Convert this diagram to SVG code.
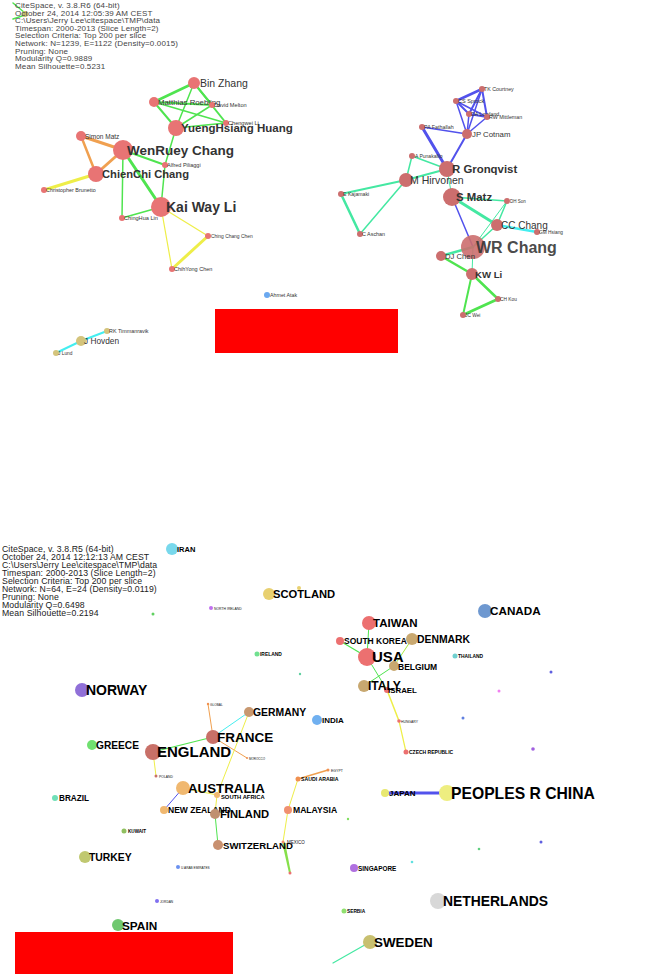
<svg xmlns="http://www.w3.org/2000/svg" width="648" height="974" viewBox="0 0 648 974">
<style>
text{font-family:"Liberation Sans",Arial,sans-serif}
.hd{font-size:8px;fill:#444;letter-spacing:0.15px}
.hd2{font-size:8.7px;fill:#222;letter-spacing:0.1px}
.e{fill:none;stroke-linecap:round}
.g{stroke:#4fe44f}.o{stroke:#f0a050}.y{stroke:#eeee48}.b{stroke:#5252ec}.t{stroke:#44e8a2}.c{stroke:#44eef0}.yg{stroke:#a8ea40}
.p1{fill:#e87474}.p2{fill:#cc6e6e}.kh{fill:#d4c47c}
.l{fill:#333}.lb{fill:#333;font-weight:bold}.lg{fill:#444}
.k{fill:#000;font-weight:bold}.kr{fill:#111}
</style>
<rect width="648" height="974" fill="#fff"/>

<!-- header top -->
<g id="header-top">
<line class="e g" x1="13" y1="3" x2="25" y2="13" stroke-width="1.5"/>
<line class="e g" x1="13" y1="19" x2="25" y2="15" stroke-width="1.5"/>
<circle cx="25" cy="14" r="3" fill="#c8c070"/>
<text class="hd" x="15" y="8">CiteSpace, v. 3.8.R6 (64-bit)</text>
<text class="hd" x="15" y="15.5">October 24, 2014 12:05:39 AM CEST</text>
<text class="hd" x="15" y="23">C:\Users\Jerry Lee\citespace\TMP\data</text>
<text class="hd" x="15" y="30.5">Timespan: 2000-2013 (Slice Length=2)</text>
<text class="hd" x="15" y="38">Selection Criteria: Top 200 per slice</text>
<text class="hd" x="15" y="46">Network: N=1239, E=1122 (Density=0.0015)</text>
<text class="hd" x="15" y="53.5">Pruning: None</text>
<text class="hd" x="15" y="61">Modularity Q=0.9889</text>
<text class="hd" x="15" y="68.5">Mean Silhouette=0.5231</text>
</g>

<g id="connectors">
<!-- top-left cluster -->
<line class="e g" x1="194" y1="83" x2="154" y2="102" stroke-width="2.5"/>
<line class="e g" x1="194" y1="83" x2="212" y2="105" stroke-width="2"/>
<line class="e g" x1="194" y1="83" x2="176" y2="128" stroke-width="1.5"/>
<line class="e g" x1="194" y1="83" x2="226" y2="123" stroke-width="2"/>
<line class="e g" x1="154" y1="102" x2="212" y2="105" stroke-width="2"/>
<line class="e g" x1="154" y1="102" x2="176" y2="128" stroke-width="2"/>
<line class="e g" x1="154" y1="102" x2="226" y2="123" stroke-width="1.5"/>
<line class="e g" x1="212" y1="105" x2="176" y2="128" stroke-width="1.5"/>
<line class="e g" x1="176" y1="128" x2="226" y2="123" stroke-width="1.5"/>
<line class="e g" x1="176" y1="128" x2="165" y2="165" stroke-width="1.5"/>
<line class="e g" x1="165" y1="165" x2="161" y2="207" stroke-width="1.5"/>
<line class="e g" x1="123" y1="150" x2="165" y2="165" stroke-width="2"/>
<line class="e g" x1="123" y1="150" x2="161" y2="207" stroke-width="3"/>
<line class="e g" x1="123" y1="150" x2="122" y2="218" stroke-width="1.5"/>
<line class="e g" x1="122" y1="218" x2="161" y2="207" stroke-width="1.5"/>
<line class="e o" x1="81" y1="136" x2="123" y2="150" stroke-width="3"/>
<line class="e o" x1="81" y1="136" x2="96" y2="174" stroke-width="2.5"/>
<line class="e o" x1="123" y1="150" x2="96" y2="174" stroke-width="3"/>
<line class="e y" x1="96" y1="174" x2="44" y2="190" stroke-width="3"/>
<line class="e y" x1="161" y1="207" x2="208" y2="236" stroke-width="1.2"/>
<line class="e y" x1="161" y1="207" x2="172" y2="269" stroke-width="1.2"/>
<line class="e y" x1="208" y1="236" x2="172" y2="269" stroke-width="3"/>
<!-- right cluster -->
<line class="e b" x1="482" y1="89" x2="456" y2="101" stroke-width="2.5"/>
<line class="e b" x1="482" y1="89" x2="469" y2="114" stroke-width="2"/>
<line class="e b" x1="482" y1="89" x2="487" y2="117" stroke-width="2"/>
<line class="e b" x1="482" y1="89" x2="467" y2="134" stroke-width="1.5"/>
<line class="e b" x1="456" y1="101" x2="469" y2="114" stroke-width="2"/>
<line class="e b" x1="456" y1="101" x2="487" y2="117" stroke-width="1.5"/>
<line class="e b" x1="456" y1="101" x2="467" y2="134" stroke-width="1.5"/>
<line class="e b" x1="469" y1="114" x2="487" y2="117" stroke-width="2"/>
<line class="e b" x1="469" y1="114" x2="467" y2="134" stroke-width="1.5"/>
<line class="e b" x1="487" y1="117" x2="467" y2="134" stroke-width="1.5"/>
<line class="e b" x1="422" y1="127" x2="467" y2="134" stroke-width="1.5"/>
<line class="e b" x1="422" y1="127" x2="447" y2="169" stroke-width="3"/>
<line class="e b" x1="467" y1="134" x2="447" y2="169" stroke-width="2"/>
<line class="e b" x1="452" y1="197" x2="473" y2="247" stroke-width="1.5"/>
<line class="e t" x1="412" y1="156" x2="447" y2="169" stroke-width="1.5"/>
<line class="e t" x1="412" y1="156" x2="406" y2="180" stroke-width="1.5"/>
<line class="e t" x1="406" y1="180" x2="447" y2="169" stroke-width="2"/>
<line class="e t" x1="447" y1="169" x2="452" y2="197" stroke-width="1"/>
<line class="e t" x1="406" y1="180" x2="341" y2="194" stroke-width="2"/>
<line class="e t" x1="406" y1="180" x2="360" y2="234" stroke-width="1.5"/>
<line class="e t" x1="341" y1="194" x2="360" y2="234" stroke-width="2.5"/>
<line class="e t" x1="452" y1="197" x2="507" y2="201" stroke-width="1.5"/>
<line class="e t" x1="452" y1="197" x2="497" y2="225" stroke-width="3"/>
<line class="e t" x1="507" y1="201" x2="497" y2="225" stroke-width="1.5"/>
<line class="e t" x1="507" y1="201" x2="473" y2="247" stroke-width="1"/>
<line class="e t" x1="497" y1="225" x2="473" y2="247" stroke-width="1.5"/>
<line class="e c" x1="497" y1="225" x2="537" y2="232" stroke-width="2.5"/>
<line class="e t" x1="473" y1="247" x2="441" y2="256" stroke-width="2.5"/>
<line class="e t" x1="473" y1="247" x2="472" y2="274" stroke-width="1"/>
<line class="e g" x1="441" y1="256" x2="472" y2="274" stroke-width="2.5"/>
<line class="e g" x1="472" y1="274" x2="498" y2="299" stroke-width="2.5"/>
<line class="e g" x1="472" y1="274" x2="463" y2="315" stroke-width="2"/>
<line class="e g" x1="498" y1="299" x2="463" y2="315" stroke-width="3"/>
<line class="e c" x1="56" y1="353" x2="81" y2="341" stroke-width="2"/>
<line class="e c" x1="81" y1="341" x2="107" y2="331" stroke-width="2"/>
<!-- bottom network -->
<line class="e g" x1="369" y1="623" x2="367" y2="657" stroke-width="1"/>
<line class="e g" x1="340" y1="641" x2="367" y2="657" stroke-width="1.2"/>
<line class="e g" x1="367" y1="657" x2="387" y2="690" stroke-width="1"/>
<line class="e yg" x1="412" y1="639" x2="394" y2="666" stroke-width="1"/>
<line class="e g" x1="394" y1="666" x2="364" y2="686" stroke-width="1"/>
<line class="e y" x1="387" y1="690" x2="399" y2="721" stroke-width="1.5"/>
<line class="e y" x1="399" y1="721" x2="406" y2="752" stroke-width="1.2"/>
<line class="e c" x1="213" y1="737" x2="249" y2="712" stroke-width="1"/>
<line class="e g" x1="213" y1="737" x2="153" y2="752" stroke-width="1.2"/>
<line class="e o" x1="213" y1="737" x2="208" y2="704" stroke-width="1"/>
<line class="e o" x1="213" y1="737" x2="247" y2="758" stroke-width="1"/>
<line class="e y" x1="153" y1="752" x2="156" y2="776" stroke-width="1"/>
<line class="e y" x1="249" y1="712" x2="217" y2="795" stroke-width="1"/>
<line class="e y" x1="217" y1="795" x2="215" y2="814" stroke-width="1"/>
<line class="e y" x1="183" y1="788" x2="217" y2="795" stroke-width="1"/>
<line class="e b" x1="183" y1="788" x2="164" y2="810" stroke-width="1"/>
<line class="e g" x1="215" y1="814" x2="218" y2="845" stroke-width="1"/>
<line class="e o" x1="298" y1="779" x2="328" y2="770" stroke-width="1.5"/>
<line class="e y" x1="298" y1="779" x2="288" y2="810" stroke-width="1"/>
<line class="e y" x1="288" y1="810" x2="283" y2="842" stroke-width="1"/>
<polygon points="282,842 285,842 291,873 289,873" fill="#86e04a"/>
<line class="e b" x1="385" y1="793" x2="447" y2="793" stroke-width="3"/>
<line class="e t" x1="370" y1="942" x2="333" y2="963" stroke-width="1.2"/>
</g>

<!-- top-left cluster nodes -->
<g id="n-bin-zhang"><circle class="p1" cx="194" cy="83" r="6"/><text class="l" x="200" y="87" font-size="10.5">Bin Zhang</text></g>
<g id="n-matthias-roebling"><circle class="p1" cx="154" cy="102" r="5"/><text class="l" x="158" y="105" font-size="7.8">Matthias Roebling</text></g>
<g id="n-david-melton"><circle class="p1" cx="212" cy="105" r="3"/><text class="l" x="214" y="107" font-size="5.6">David Melton</text></g>
<g id="n-chengwei-li"><circle class="p1" cx="226" cy="123" r="3"/><text class="l" x="228" y="125" font-size="5.6">Chengwei Li</text></g>
<g id="n-yuenghsiang-huang"><circle class="p1" cx="176" cy="128" r="8"/><text class="lb" x="181" y="132" font-size="11.5">YuengHsiang Huang</text></g>
<g id="n-simon-matz"><circle class="p1" cx="81" cy="136" r="5"/><text class="l" x="85" y="138.5" font-size="6.5">Simon Matz</text></g>
<g id="n-wenruey-chang"><circle class="p1" cx="123" cy="150" r="10"/><text class="lb" x="127" y="155" font-size="13.5">WenRuey Chang</text></g>
<g id="n-alfred-piliaggi"><circle class="p1" cx="165" cy="165" r="3"/><text class="l" x="167" y="167" font-size="5.5">Alfred Piliaggi</text></g>
<g id="n-chienchi-chang"><circle class="p1" cx="96" cy="174" r="8"/><text class="lb" x="102" y="178" font-size="11.2">ChienChi Chang</text></g>
<g id="n-christopher-brunetto"><circle class="p1" cx="44" cy="190" r="3"/><text class="l" x="46" y="192" font-size="5.4">Christopher Brunetto</text></g>
<g id="n-kai-way-li"><circle class="p1" cx="161" cy="207" r="10"/><text class="lb" x="166" y="212" font-size="14">Kai Way Li</text></g>
<g id="n-chinghua-lin"><circle class="p1" cx="122" cy="218" r="3"/><text class="l" x="124" y="220" font-size="5.6">ChingHua Lin</text></g>
<g id="n-ching-chang-chen"><circle class="p1" cx="208" cy="236" r="3"/><text class="l" x="211" y="238" font-size="4.9">Ching Chang Chen</text></g>
<g id="n-chihyong-chen"><circle class="p1" cx="172" cy="269" r="3"/><text class="l" x="174" y="271" font-size="5.5">ChihYong Chen</text></g>

<!-- right cluster nodes -->
<g id="n-tk-courtney"><circle class="p2" cx="482" cy="89" r="3"/><text class="l" x="484" y="91" font-size="5.3">TK Courtney</text></g>
<g id="n-cs-sprock"><circle class="p2" cx="456" cy="101" r="3"/><text class="l" x="458" y="103" font-size="5.5">CS Sprock</text></g>
<g id="n-da-lowland"><circle class="p2" cx="469" cy="114" r="3"/><text class="l" x="471" y="116" font-size="5.3">DA Lowland</text></g>
<g id="n-rw-mittleman"><circle class="p2" cx="487" cy="117" r="3"/><text class="l" x="489" y="119" font-size="5.3">RW Mittleman</text></g>
<g id="n-pa-fathallah"><circle class="p2" cx="422" cy="127" r="3"/><text class="l" x="424" y="129" font-size="5.3">PA Fathallah</text></g>
<g id="n-jp-cotnam"><circle class="p2" cx="467" cy="134" r="5"/><text class="l" x="472" y="137" font-size="7.8">JP Cotnam</text></g>
<g id="n-a-punakallio"><circle class="p2" cx="412" cy="156" r="3"/><text class="l" x="415" y="158" font-size="5">A Punakallio</text></g>
<g id="n-r-gronqvist"><circle class="p2" cx="447" cy="169" r="8"/><text class="lb" x="452" y="173" font-size="11.4">R Gronqvist</text></g>
<g id="n-m-hirvonen"><circle class="p2" cx="406" cy="180" r="7"/><text class="l" x="410" y="184" font-size="10.5">M Hirvonen</text></g>
<g id="n-e-kajamaki"><circle class="p2" cx="341" cy="194" r="3"/><text class="l" x="343" y="196" font-size="5.2">E Kajamaki</text></g>
<g id="n-s-matz"><circle class="p2" cx="452" cy="197" r="9"/><text class="lb" x="456" y="201" font-size="11.4">S Matz</text></g>
<g id="n-dh-son"><circle class="p2" cx="507" cy="201" r="3"/><text class="l" x="510" y="203" font-size="4.5">DH Son</text></g>
<g id="n-cc-chang"><circle class="p2" cx="497" cy="225" r="6"/><text class="l" x="501" y="229" font-size="10">CC Chang</text></g>
<g id="n-gm-hsiang"><circle class="p2" cx="537" cy="232" r="3"/><text class="l" x="539" y="234" font-size="4.8">GM Hsiang</text></g>
<g id="n-c-aschan"><circle class="p2" cx="360" cy="234" r="3"/><text class="l" x="362" y="236" font-size="5.4">C Aschan</text></g>
<g id="n-wr-chang"><circle class="p2" cx="473" cy="247" r="12" opacity="0.9"/><text class="lb" x="476" y="253" font-size="16" fill-opacity="0.9">WR Chang</text></g>
<g id="n-dj-chen"><circle class="p2" cx="441" cy="256" r="5"/><text class="l" x="445" y="259" font-size="7.7">DJ Chen</text></g>
<g id="n-kw-li"><circle class="p2" cx="472" cy="274" r="6"/><text class="lb" x="475" y="277.5" font-size="9.6">KW Li</text></g>
<g id="n-ch-kou"><circle class="p2" cx="498" cy="299" r="3"/><text class="l" x="500" y="301" font-size="4.8">CH Kou</text></g>
<g id="n-jc-wei"><circle class="p2" cx="463" cy="315" r="3"/><text class="l" x="465" y="317" font-size="4.8">JC Wei</text></g>

<!-- isolated / small clusters -->
<g id="n-ahmet-atak"><circle cx="267" cy="295" r="3" fill="#6aa8f0"/><text class="l" x="270" y="297" font-size="5.3">Ahmet Atak</text></g>
<g id="n-j-hovden"><circle class="kh" cx="81" cy="341" r="5"/><text class="l" x="84" y="344" font-size="8.3">J Hovden</text></g>
<g id="n-rk-timmanravik"><circle class="kh" cx="107" cy="331" r="3"/><text class="l" x="109" y="333" font-size="5.4">RK Timmanravik</text></g>
<g id="n-j-lund"><circle class="kh" cx="56" cy="353" r="3"/><text class="l" x="58" y="355" font-size="4.8">J Lund</text></g>

<!-- header bottom -->
<g id="header-bottom">
<text class="hd2" x="2" y="552">CiteSpace, v. 3.8.R5 (64-bit)</text>
<text class="hd2" x="2" y="560">October 24, 2014 12:12:13 AM CEST</text>
<text class="hd2" x="2" y="568">C:\Users\Jerry Lee\citespace\TMP\data</text>
<text class="hd2" x="2" y="576">Timespan: 2000-2013 (Slice Length=2)</text>
<text class="hd2" x="2" y="584">Selection Criteria: Top 200 per slice</text>
<text class="hd2" x="2" y="592">Network: N=64, E=24 (Density=0.0119)</text>
<text class="hd2" x="2" y="600">Pruning: None</text>
<text class="hd2" x="2" y="608">Modularity Q=0.6498</text>
<text class="hd2" x="2" y="616">Mean Silhouette=0.2194</text>
</g>

<!-- bottom nodes -->
<g id="n-iran"><circle cx="172" cy="549" r="6" fill="#78d8ec"/><text class="k" x="177" y="552" font-size="7.5">IRAN</text></g>
<g id="n-tiny-1"><circle cx="153" cy="614" r="1.5" fill="#60d060"/></g>
<g id="n-north-ireland"><circle cx="211" cy="608" r="2" fill="#c070f0"/><text class="kr" x="214" y="610" font-size="3.4">NORTH IRELAND</text></g>
<g id="n-scotland"><circle cx="269" cy="594" r="6" fill="#e8d070"/><text class="k" x="273" y="598" font-size="11.2">SCOTLAND</text></g>
<g id="n-tiny-2"><circle cx="299" cy="588" r="2" fill="#e8d070"/></g>
<g id="n-canada"><circle cx="485" cy="611" r="7" fill="#6e98d0"/><text class="k" x="490" y="615" font-size="11.7">CANADA</text></g>
<g id="n-taiwan"><circle cx="369" cy="623" r="7" fill="#ec7070"/><text class="k" x="373" y="627" font-size="11.5">TAIWAN</text></g>
<g id="n-south-korea"><circle cx="340" cy="641" r="4" fill="#ec7070"/><text class="k" x="344" y="644" font-size="8.5">SOUTH KOREA</text></g>
<g id="n-denmark"><circle cx="412" cy="639" r="6" fill="#c8a870"/><text class="k" x="417" y="643" font-size="10.4">DENMARK</text></g>
<g id="n-usa"><circle cx="367" cy="657" r="9" fill="#ec7070"/><text class="k" x="372" y="662" font-size="15">USA</text></g>
<g id="n-ireland"><circle cx="257" cy="654" r="2.5" fill="#70e090"/><text class="k" x="260" y="656" font-size="4.9">IRELAND</text></g>
<g id="n-thailand"><circle cx="455" cy="656" r="2.5" fill="#70d0d0"/><text class="k" x="458" y="658" font-size="4.9">THAILAND</text></g>
<g id="n-belgium"><circle cx="394" cy="666" r="5" fill="#c8a870"/><text class="k" x="398" y="669.5" font-size="8.5">BELGIUM</text></g>
<g id="n-tiny-3"><circle cx="300" cy="674" r="1.2" fill="#60d0a0"/></g>
<g id="n-tiny-4"><circle cx="551" cy="672" r="1.5" fill="#6060e0"/></g>
<g id="n-israel"><circle cx="387" cy="690" r="3" fill="#ec7070"/><text class="k" x="388" y="693" font-size="7.9">ISRAEL</text></g>
<g id="n-italy"><circle cx="364" cy="686" r="6" fill="#c8a870"/><text class="k" x="368" y="690" font-size="12.1">ITALY</text></g>
<g id="n-tiny-5"><circle cx="499" cy="691" r="1.5" fill="#f080f0"/></g>
<g id="n-global"><circle cx="208" cy="704" r="1.2" fill="#f09050"/><text class="kr" x="210" y="706" font-size="3.2">GLOBAL</text></g>
<g id="n-norway"><circle cx="82" cy="690" r="7" fill="#9070d8"/><text class="k" x="86" y="695" font-size="14">NORWAY</text></g>
<g id="n-germany"><circle cx="249" cy="712" r="5" fill="#c89870"/><text class="k" x="253" y="716" font-size="10.4">GERMANY</text></g>
<g id="n-india"><circle cx="317" cy="720" r="5" fill="#70b0f0"/><text class="k" x="322" y="723" font-size="8">INDIA</text></g>
<g id="n-hungary"><circle cx="399" cy="721" r="1.8" fill="#ec7070"/><text class="kr" x="401" y="723" font-size="3.4">HUNGARY</text></g>
<g id="n-tiny-6"><circle cx="463" cy="718" r="1.5" fill="#6080e0"/></g>
<g id="n-greece"><circle cx="92" cy="745" r="5" fill="#70e070"/><text class="k" x="96" y="749" font-size="10.2">GREECE</text></g>
<g id="n-france"><circle cx="213" cy="737" r="7" fill="#c87068"/><text class="k" x="217" y="742" font-size="13.5">FRANCE</text></g>
<g id="n-england"><circle cx="153" cy="752" r="8" fill="#c87068"/><text class="k" x="157" y="757" font-size="15">ENGLAND</text></g>
<g id="n-tiny-7"><circle cx="533" cy="749" r="1.8" fill="#a060e0"/></g>
<g id="n-czech-republic"><circle cx="406" cy="752" r="2.5" fill="#ec7070"/><text class="k" x="409" y="754" font-size="5">CZECH REPUBLIC</text></g>
<g id="n-morocco"><circle cx="247" cy="758" r="1" fill="#f09050"/><text class="kr" x="249" y="759.5" font-size="3">MOROCCO</text></g>
<g id="n-poland"><circle cx="156" cy="776" r="1.5" fill="#c87068"/><text class="kr" x="159" y="777.5" font-size="3.4">POLAND</text></g>
<g id="n-egypt"><circle cx="328" cy="770" r="1.5" fill="#f09050"/><text class="kr" x="331" y="772" font-size="3.5">EGYPT</text></g>
<g id="n-saudi-arabia"><circle cx="298" cy="779" r="2.5" fill="#f09050"/><text class="k" x="301" y="781" font-size="5.2">SAUDI ARABIA</text></g>
<g id="n-australia"><circle cx="183" cy="788" r="7" fill="#f0b870"/><text class="k" x="188" y="793" font-size="13.3">AUSTRALIA</text></g>
<g id="n-south-africa"><circle cx="217" cy="795" r="3" fill="#f0b870"/><text class="k" x="221" y="799" font-size="5.8">SOUTH AFRICA</text></g>
<g id="n-japan"><circle cx="385" cy="793" r="4" fill="#e8e870"/><text class="k" x="389" y="796" font-size="8">JAPAN</text></g>
<g id="n-peoples-r-china"><circle cx="447" cy="793" r="8" fill="#eeee80"/><text class="k" x="451" y="798.5" font-size="15.7">PEOPLES R CHINA</text></g>
<g id="n-brazil"><circle cx="55" cy="798" r="3" fill="#70e0b8"/><text class="k" x="59" y="801" font-size="8.2">BRAZIL</text></g>
<g id="n-new-zealand"><circle cx="164" cy="810" r="4" fill="#f0b870"/><text class="k" x="168" y="813" font-size="8.5">NEW ZEALAND</text></g>
<g id="n-finland"><circle cx="215" cy="814" r="5" fill="#c09070"/><text class="k" x="220" y="818" font-size="11.2">FINLAND</text></g>
<g id="n-malaysia"><circle cx="288" cy="810" r="4" fill="#f09070"/><text class="k" x="293" y="813" font-size="8.6">MALAYSIA</text></g>
<g id="n-tiny-8"><circle cx="348" cy="819" r="1.2" fill="#80e060"/></g>
<g id="n-kuwait"><circle cx="124" cy="831" r="2.5" fill="#90c060"/><text class="k" x="128" y="833" font-size="4.6">KUWAIT</text></g>
<g id="n-switzerland"><circle cx="218" cy="845" r="5" fill="#c89070"/><text class="k" x="223" y="849" font-size="9.6">SWITZERLAND</text></g>
<g id="n-mexico"><circle cx="283" cy="842" r="1.5" fill="#f09070"/><text class="kr" x="287" y="844" font-size="4.5">MEXICO</text></g>
<g id="n-tiny-9"><circle cx="541" cy="842" r="1.5" fill="#6060e0"/></g>
<g id="n-tiny-10"><circle cx="479" cy="849" r="1.3" fill="#60d080"/></g>
<g id="n-tiny-11"><circle cx="412" cy="862" r="1.3" fill="#60e0e0"/></g>
<g id="n-turkey"><circle cx="85" cy="857" r="6" fill="#c0c870"/><text class="k" x="89" y="861" font-size="10.4">TURKEY</text></g>
<g id="n-u-arab-emirates"><circle cx="178" cy="867" r="2" fill="#6a90f0"/><text class="kr" x="181" y="869" font-size="3.2">U ARAB EMIRATES</text></g>
<g id="n-singapore"><circle cx="354" cy="868" r="4" fill="#b070e0"/><text class="k" x="358" y="871" font-size="6.4">SINGAPORE</text></g>
<g id="n-tiny-12"><circle cx="290" cy="873" r="1.5" fill="#ec7070"/></g>
<g id="n-jordan"><circle cx="157" cy="901" r="2" fill="#8070f0"/><text class="kr" x="160" y="902.5" font-size="3.2">JORDAN</text></g>
<g id="n-netherlands"><circle cx="438" cy="901" r="8" fill="#d8d8d8"/><text class="k" x="443" y="906" font-size="13.9">NETHERLANDS</text></g>
<g id="n-serbia"><circle cx="344" cy="911" r="2.5" fill="#90e070"/><text class="k" x="347" y="913" font-size="4.8">SERBIA</text></g>
<g id="n-spain"><circle cx="118" cy="925" r="6" fill="#70c870"/><text class="k" x="122" y="930" font-size="11.8">SPAIN</text></g>
<g id="n-sweden"><circle cx="370" cy="942" r="7" fill="#c8c070"/><text class="k" x="374" y="947" font-size="13.4">SWEDEN</text></g>

<!-- red blocks -->
<rect x="215" y="309" width="183" height="44" fill="#ff0000"/>
<rect x="15" y="932" width="218" height="42" fill="#ff0000"/>
</svg>
